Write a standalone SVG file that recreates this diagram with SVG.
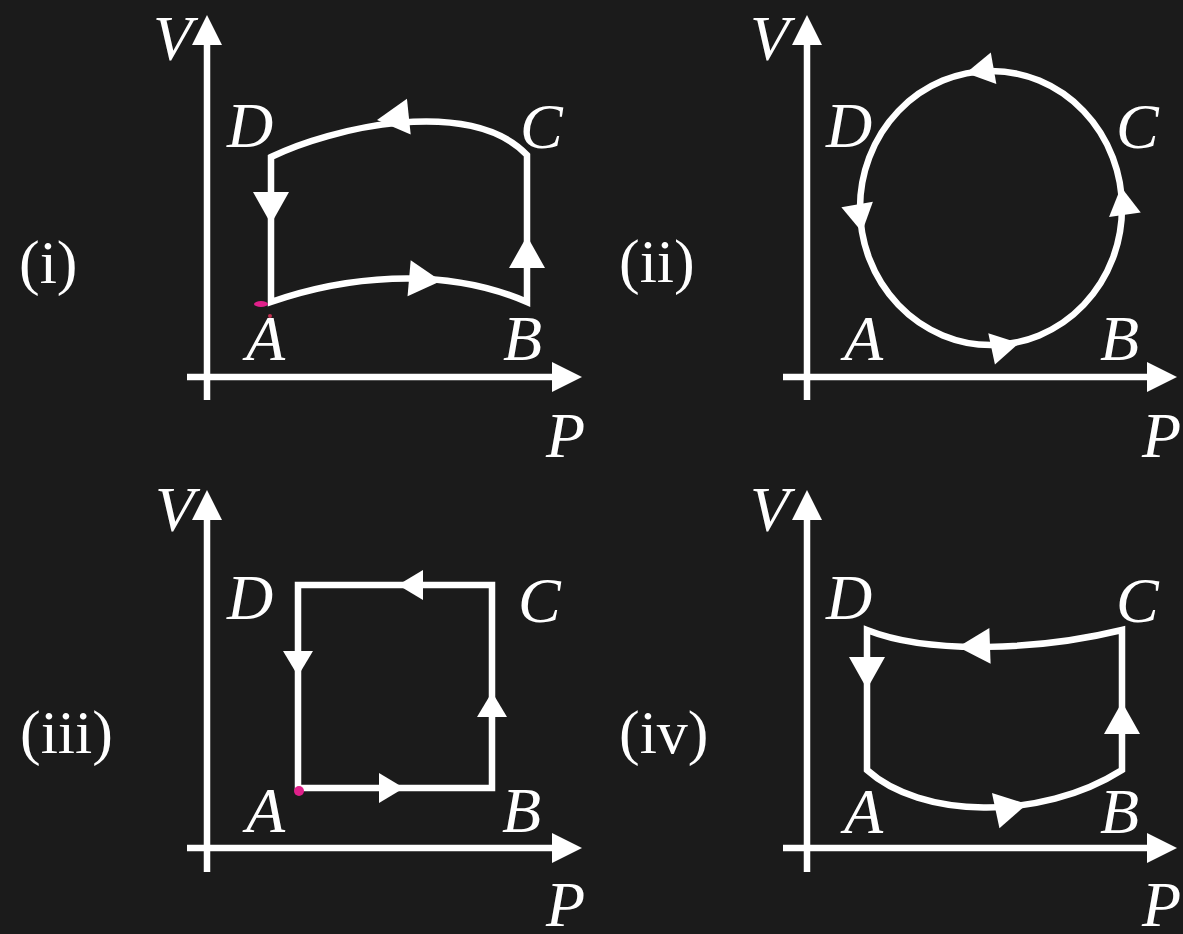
<svg xmlns="http://www.w3.org/2000/svg" xmlns:xlink="http://www.w3.org/1999/xlink" width="1183" height="934" viewBox="0 0 1183 934">
<style>
.ax{stroke:#ffffff;stroke-width:6.5;fill:none}
.cy{stroke:#ffffff;stroke-width:6.5;fill:none;stroke-linejoin:miter}
.hd{fill:#ffffff}
.lt{font-family:"Liberation Serif","Times New Roman",serif;font-style:italic;font-size:64px;fill:#ffffff}
.pl{font-family:"Liberation Serif","Times New Roman",serif;font-size:62px;fill:#ffffff}
.mk{fill:#e0208a}
</style>
<defs>
<path id="hA" d="M0,0 L-30,-15 L-30,15 Z"/>
<path id="hL" d="M0,0 L-32,-18 L-32,18 Z"/>
<path id="hM" d="M0,0 L-28,-16 L-28,16 Z"/>
<path id="hS" d="M0,0 L-25,-15 L-25,15 Z"/>
</defs>
<rect x="0" y="0" width="1183" height="934" fill="#1b1b1b"/>

<g id="panel-i">
<text class="pl" x="19" y="283">(i)</text>
<line class="ax" x1="207" y1="400" x2="207" y2="40"/>
<use href="#hA" class="hd" transform="translate(207,15) rotate(-90)"/>
<line class="ax" x1="187" y1="377" x2="557" y2="377"/>
<use href="#hA" class="hd" transform="translate(582,377)"/>
<text class="lt" x="153" y="60">V</text>
<text class="lt" x="546" y="457">P</text>
<text class="lt" x="227" y="147">D</text>
<text class="lt" x="520" y="148">C</text>
<text class="lt" x="246" y="360">A</text>
<text class="lt" x="503" y="360">B</text>
</g>
<g id="panel-ii">
<text class="pl" x="619" y="282">(ii)</text>
<line class="ax" x1="807" y1="400" x2="807" y2="40"/>
<use href="#hA" class="hd" transform="translate(807,15) rotate(-90)"/>
<line class="ax" x1="783" y1="377" x2="1152" y2="377"/>
<use href="#hA" class="hd" transform="translate(1177,377)"/>
<text class="lt" x="750" y="60">V</text>
<text class="lt" x="1142" y="457">P</text>
<text class="lt" x="826" y="147">D</text>
<text class="lt" x="1116" y="148">C</text>
<text class="lt" x="844" y="360">A</text>
<text class="lt" x="1100" y="360">B</text>
</g>
<g id="panel-iii">
<text class="pl" x="20" y="753">(iii)</text>
<line class="ax" x1="207" y1="872" x2="207" y2="515"/>
<use href="#hA" class="hd" transform="translate(207,490) rotate(-90)"/>
<line class="ax" x1="187" y1="848" x2="557" y2="848"/>
<use href="#hA" class="hd" transform="translate(582,848)"/>
<text class="lt" x="155" y="531">V</text>
<text class="lt" x="546" y="926">P</text>
<text class="lt" x="227" y="619">D</text>
<text class="lt" x="518" y="622">C</text>
<text class="lt" x="246" y="832">A</text>
<text class="lt" x="502" y="832">B</text>
</g>
<g id="panel-iv">
<text class="pl" x="619" y="753">(iv)</text>
<line class="ax" x1="807" y1="872" x2="807" y2="515"/>
<use href="#hA" class="hd" transform="translate(807,490) rotate(-90)"/>
<line class="ax" x1="783" y1="848" x2="1152" y2="848"/>
<use href="#hA" class="hd" transform="translate(1177,848)"/>
<text class="lt" x="750" y="531">V</text>
<text class="lt" x="1142" y="926">P</text>
<text class="lt" x="826" y="619">D</text>
<text class="lt" x="1116" y="622">C</text>
<text class="lt" x="844" y="833">A</text>
<text class="lt" x="1100" y="833">B</text>
</g>

<g id="connectors">
<!-- (i) -->
<path class="cy" d="M271,302 C340,278 440,264 527,302 L527,155 C470,95 330,128 271,157 Z"/>
<use href="#hL" class="hd" transform="translate(441,281) rotate(5)"/>
<use href="#hL" class="hd" transform="translate(527,236) rotate(-90)"/>
<use href="#hL" class="hd" transform="translate(377,120) rotate(174)"/>
<use href="#hL" class="hd" transform="translate(271,224) rotate(90)"/>
<!-- (ii) -->
<ellipse class="cy" cx="991" cy="208" rx="131" ry="137"/>
<use href="#hM" class="hd" transform="translate(1019,343) rotate(-12)"/>
<use href="#hM" class="hd" transform="translate(1121,187) rotate(-98)"/>
<use href="#hM" class="hd" transform="translate(966,73) rotate(170)"/>
<use href="#hM" class="hd" transform="translate(862,232) rotate(80)"/>
<!-- (iii) -->
<path class="cy" d="M298,788 L492,788 L492,585 L298,585 Z"/>
<use href="#hS" class="hd" transform="translate(404,788)"/>
<use href="#hS" class="hd" transform="translate(492,692) rotate(-90)"/>
<use href="#hS" class="hd" transform="translate(398,585) rotate(180)"/>
<use href="#hS" class="hd" transform="translate(298,676) rotate(90)"/>
<!-- (iv) -->
<path class="cy" d="M867,770 C920,818 1040,822 1122,770 L1122,630 C1040,650 930,655 867,630 Z"/>
<use href="#hL" class="hd" transform="translate(1027,804) rotate(-12)"/>
<use href="#hL" class="hd" transform="translate(1122,702) rotate(-90)"/>
<use href="#hL" class="hd" transform="translate(958,647) rotate(178)"/>
<use href="#hL" class="hd" transform="translate(867,689) rotate(90)"/>
</g>
<g id="marks">
<ellipse class="mk" cx="261" cy="304" rx="7" ry="3"/>
<circle cx="270" cy="316" r="2" fill="#c03050"/>
<circle class="mk" cx="299" cy="791" r="5"/>
</g>
</svg>
